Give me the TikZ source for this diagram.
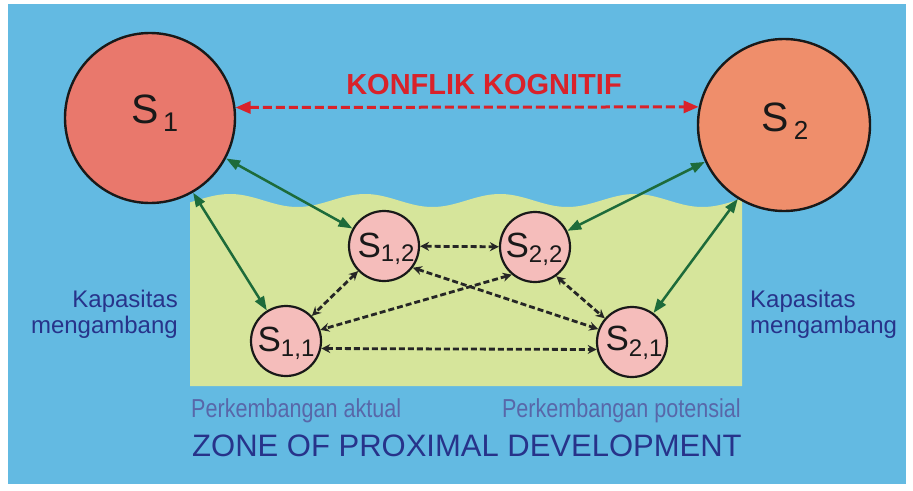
\documentclass[tikz,border=0pt]{standalone}
\usepackage{fontspec}
\setmainfont{Liberation Sans}
\newfontfamily\narrowfont[FakeStretch=0.83]{Liberation Sans}
\usetikzlibrary{arrows.meta}

\definecolor{skyblue}{HTML}{63BAE2}
\definecolor{zpdgreen}{HTML}{D6E59B}
\definecolor{sonefill}{HTML}{E9786C}
\definecolor{stwofill}{HTML}{EF8E6B}
\definecolor{pinkfill}{HTML}{F5BDBB}
\definecolor{arrgreen}{HTML}{1D6B3A}
\definecolor{konred}{HTML}{D9222A}
\definecolor{navytext}{HTML}{27338A}
\definecolor{greytext}{HTML}{5867A9}

% S with a lowered subscript: #1 size of S, #2 subscript, #3 its size, #4 drop, #5 gap
\newcommand{\Sname}[5]{{\fontsize{#1}{#1}\selectfont S}\hspace{#5pt}\raisebox{-#4pt}{\fontsize{#3}{#3}\selectfont #2}}

\begin{document}
\begin{tikzpicture}[x=1pt,y=-1pt,
  bigcirc/.style={circle, draw=black!90, line width=2.4pt, inner sep=0pt},
  smallcirc/.style={circle, draw=black!90, line width=2.2pt, fill=pinkfill, inner sep=0pt, minimum size=70pt},
  lbl/.style={anchor=base, inner sep=0pt, text=black!90},
  greenarr/.style={draw=arrgreen, line width=2.5pt,
    arrows={Triangle[length=14pt,width=10pt]-Triangle[length=14pt,width=10pt]}},
  redarr/.style={draw=konred, line width=3pt, dash pattern=on 9pt off 4pt,
    arrows={Triangle[length=15pt,width=12pt]-Triangle[length=15pt,width=12pt]}},
  blackarr/.style={draw=black!85, line width=2.8pt, dash pattern=on 6pt off 3pt,
    arrows={Stealth[length=9pt,width=9pt,inset=3pt]-Stealth[length=9pt,width=9pt,inset=3pt]}},
  sidetext/.style={inner sep=0pt, text=navytext, font=\fontsize{24}{24}\selectfont},
  devtext/.style={inner sep=0pt, text=greytext, font=\narrowfont\fontsize{26}{26}\selectfont},
]
\useasboundingbox (0,0) rectangle (913,490);
\fill[white] (0,0) rectangle (913,490);
\fill[skyblue] (8,4) rectangle (906,484);

% zone of proximal development with a wavy upper edge
\fill[zpdgreen] plot[domain=190:742, samples=160] (\x, {200.5-6.5*cos(2.6667*(\x-230))})
  -- (742,386) -- (190,386) -- cycle;

% students
\node[bigcirc, fill=sonefill, minimum size=170pt] (S1) at (150,118) {};
\node[bigcirc, fill=stwofill, minimum size=172pt] (S2) at (784,125) {};
\node[smallcirc] (S12) at (384,246) {};
\node[smallcirc] (S11) at (286,341) {};
\node[smallcirc] (S22) at (535,247) {};
\node[smallcirc] (S21) at (632,342) {};

\node[lbl] (S1t) at (155,123) {\Sname{41}{1}{27}{8}{4}};
\node[lbl] (S2t) at (785,131) {\Sname{41}{2}{26}{8}{5}};
\node[lbl] (S12t) at (386,257) {\Sname{35}{1,2}{24}{4}{0}};
\node[lbl] (S11t) at (286,351) {\Sname{35}{1,1}{24}{5}{0}};
\node[lbl] (S22t) at (534,257) {\Sname{35}{2,2}{24}{5}{0}};
\node[lbl] (S21t) at (634,350) {\Sname{35}{2,1}{24}{6}{0}};

% cognitive conflict
\draw[redarr] (S1.7.4) -- (S2.168.6);
\node[anchor=base, inner sep=0pt, text=konred, font=\bfseries\fontsize{29}{29}\selectfont] (konflik) at (484,94) {KONFLIK KOGNITIF};

% links from each student to the levels of development
\draw[greenarr] (S1.-28) -- (S12);
\draw[greenarr] (S1.-60) -- (S11);
\draw[greenarr] (S2.-155) -- (S22);
\draw[greenarr] (S2.-122) -- (S21);

% interactions inside the zone
\draw[blackarr] (S12) -- (S22);
\draw[blackarr] (S11.-12) -- (S21.192);
\draw[blackarr] (S12) -- (S11);
\draw[blackarr] (S22.-54) -- (S21.139);
\draw[blackarr] (S12.-37) -- (S21.159);
\draw[blackarr] (S22.-130) -- (S11.18);

% captions
\node[sidetext, anchor=base east] (kapL1) at (178,307) {Kapasitas};
\node[sidetext, anchor=base east] (kapL2) at (178,333) {mengambang};
\node[sidetext, anchor=base west] (kapR1) at (750,307) {Kapasitas};
\node[sidetext, anchor=base west] (kapR2) at (750,333) {mengambang};
\node[devtext, anchor=base west] (aktual) at (191,417) {Perkembangan aktual};
\node[devtext, anchor=base east] (potensial) at (741,417) {Perkembangan potensial};
\node[anchor=base west, inner sep=0pt, text=navytext, font=\fontsize{31}{31}\selectfont] (zpd) at (192,456) {ZONE OF PROXIMAL DEVELOPMENT};
\end{tikzpicture}
\end{document}
